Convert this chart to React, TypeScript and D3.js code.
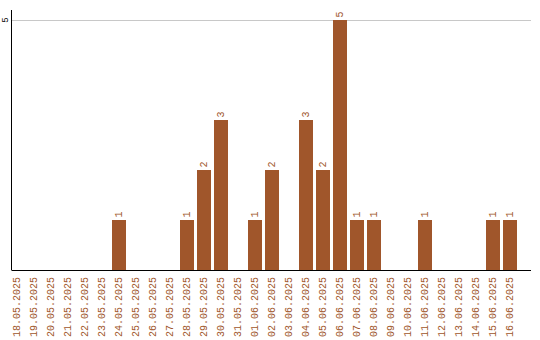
import React from "react";
import * as d3 from "d3";

const dates = [
  "18.05.2025", "19.05.2025", "20.05.2025", "21.05.2025", "22.05.2025", "23.05.2025",
  "24.05.2025", "25.05.2025", "26.05.2025", "27.05.2025", "28.05.2025", "29.05.2025",
  "30.05.2025", "31.05.2025", "01.06.2025", "02.06.2025", "03.06.2025", "04.06.2025",
  "05.06.2025", "06.06.2025", "07.06.2025", "08.06.2025", "09.06.2025", "10.06.2025",
  "11.06.2025", "12.06.2025", "13.06.2025", "14.06.2025", "15.06.2025", "16.06.2025",
];
const counts = [0, 0, 0, 0, 0, 0, 1, 0, 0, 0, 1, 2, 3, 0, 1, 2, 0, 3, 2, 5, 1, 1, 0, 0, 1, 0, 0, 0, 1, 1];
const yTicks = [5];

const W = 540;
const H = 340;
const COLOR = "#a0562b";
const FONT = "'Liberation Mono', monospace";

export default function App() {
  const x = d3.scaleBand<string>().domain(dates).range([8.5, 518.5]).paddingInner(0.18).paddingOuter(0.09);
  const y = d3.scaleLinear().domain([0, 5]).range([270, 20]);
  const axisX = 11.5;
  const right = 531;
  return (
    <svg width={W} height={H} style={{ position: "absolute", left: 0, top: 0, background: "#fff" }}>
      {yTicks.map((t) => (
        <g key={t}>
          <line x1={axisX} x2={right} y1={Math.round(y(t)) + 0.5} y2={Math.round(y(t)) + 0.5} stroke="#c8c8c8" strokeWidth={1} />
          <text
            transform={`translate(6,${y(t)}) rotate(-90)`}
            textAnchor="middle"
            dominantBaseline="central"
            fontFamily={FONT}
            fontSize={9}
            fill="#000"
          >
            {t}
          </text>
        </g>
      ))}
      {dates.map((d, i) => {
        const v = counts[i];
        if (!v) return null;
        const bx = x(d)!;
        const cx = bx + x.bandwidth() / 2;
        return (
          <g key={d}>
            <rect x={bx} y={y(v)} width={x.bandwidth()} height={y(0) - y(v)} fill={COLOR} shapeRendering="crispEdges" />
            <text
              transform={`translate(${cx},${y(v) - 2.5}) rotate(-90)`}
              textAnchor="start"
              dominantBaseline="central"
              fontFamily={FONT}
              fontSize={10}
              fill={COLOR}
            >
              {v}
            </text>
          </g>
        );
      })}
      <line x1={axisX} x2={axisX} y1={10} y2={270} stroke="#000" strokeWidth={1} />
      <line x1={axisX} x2={right} y1={270.5} y2={270.5} stroke="#000" strokeWidth={1} />
      {dates.map((d) => {
        const cx = x(d)! + x.bandwidth() / 2;
        return (
          <text
            key={"l" + d}
            transform={`translate(${cx},277) rotate(-90)`}
            textAnchor="end"
            dominantBaseline="central"
            fontFamily={FONT}
            fontSize={10}
            fill={COLOR}
          >
            {d}
          </text>
        );
      })}
    </svg>
  );
}
